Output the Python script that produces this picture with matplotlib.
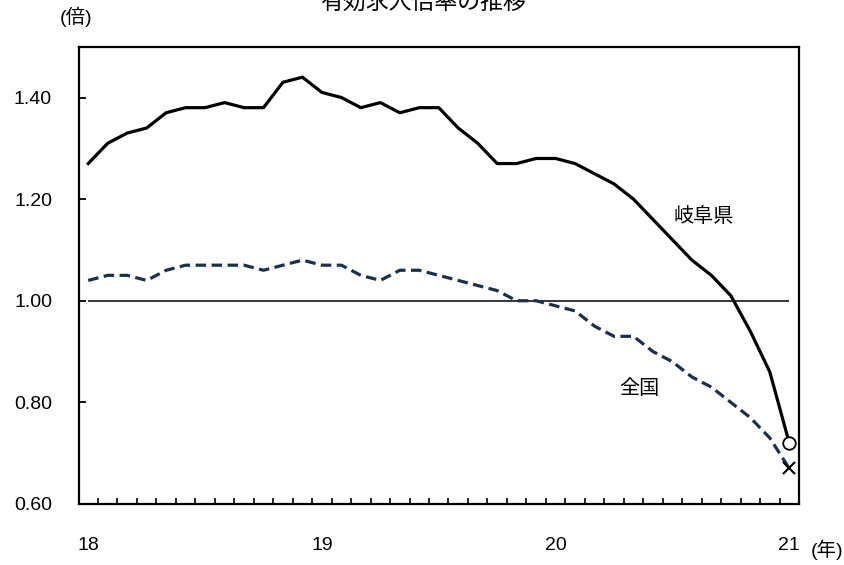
import numpy as np
from matplotlib import pyplot as plt

plt.rcParams['font.family'] = ['Liberation Sans', 'Noto Sans CJK JP']

# monthly values, 2018/1 .. 2021/1
year_labels = ['18', '19', '20', '21']
gifu = [1.27, 1.31, 1.33, 1.34, 1.37, 1.38, 1.38, 1.39, 1.38, 1.38, 1.43, 1.44,
        1.41, 1.40, 1.38, 1.39, 1.37, 1.38, 1.38, 1.34, 1.31, 1.27, 1.27, 1.28,
        1.28, 1.27, 1.25, 1.23, 1.20, 1.16, 1.12, 1.08, 1.05, 1.01, 0.94, 0.86,
        0.72]
national = [1.04, 1.05, 1.05, 1.04, 1.06, 1.07, 1.07, 1.07, 1.07, 1.06, 1.07, 1.08,
            1.07, 1.07, 1.05, 1.04, 1.06, 1.06, 1.05, 1.04, 1.03, 1.02, 1.00, 1.00,
            0.99, 0.98, 0.95, 0.93, 0.93, 0.90, 0.88, 0.85, 0.83, 0.80, 0.77, 0.73,
            0.67]
y_ticks = [0.60, 0.80, 1.00, 1.20, 1.40]

W, H = 844, 565
fig = plt.figure(figsize=(W / 100, H / 100), dpi=100)
ax = fig.add_axes([78.5 / W, 1 - 504 / H, (799 - 78.5) / W, (504 - 46.7) / H])

x = np.arange(len(gifu))
n = len(gifu)

ax.hlines(1.0, 0, n - 1, color='black', lw=1.1, zorder=1)
ax.plot(x, gifu, color='black', lw=2.3, zorder=3)
ax.plot(x, national, color='#1c2f4c', lw=2.3, linestyle=(0, (3.3, 1.7)),
        dash_capstyle='butt', zorder=2)
ax.plot(x[-1], gifu[-1], 'o', mfc='white', mec='black', ms=9, mew=1.3, zorder=5)
ax.plot(x[-1], national[-1], 'x', color='black', ms=8, mew=1.5, zorder=5)

ax.text(31.6, 1.165, '岐阜県', fontsize=14.5, ha='center', va='center')
ax.text(28.3, 0.827, '全国', fontsize=14.5, ha='center', va='center')

ax.set_xlim(-0.5, n - 0.5)
ax.set_ylim(0.6, 1.5)
ax.set_yticks(y_ticks)
ax.set_yticklabels(['%.2f' % v for v in y_ticks])
ax.set_xticks([0, 12, 24, 36])
ax.set_xticklabels(year_labels)
ax.set_xticks(np.arange(0.5, n - 1, 1), minor=True)

ax.tick_params(axis='y', direction='in', length=5, width=1.3, pad=19, labelsize=14)
ax.tick_params(axis='x', which='major', length=0, pad=24, labelsize=14)
ax.tick_params(axis='x', which='minor', direction='in', length=4, width=1.2)

for s in ax.spines.values():
    s.set_linewidth(1.6)
    s.set_color('black')

fig.text(423 / W, 1 - 2 / H, '有効求人倍率の推移', fontsize=16.5, ha='center', va='center')
fig.text(76 / W, 1 - 17 / H, '(倍)', fontsize=14, ha='center', va='center')
fig.text(827 / W, 1 - 550 / H, '(年)', fontsize=14, ha='center', va='center')

fig.savefig('out.png', dpi=100)
